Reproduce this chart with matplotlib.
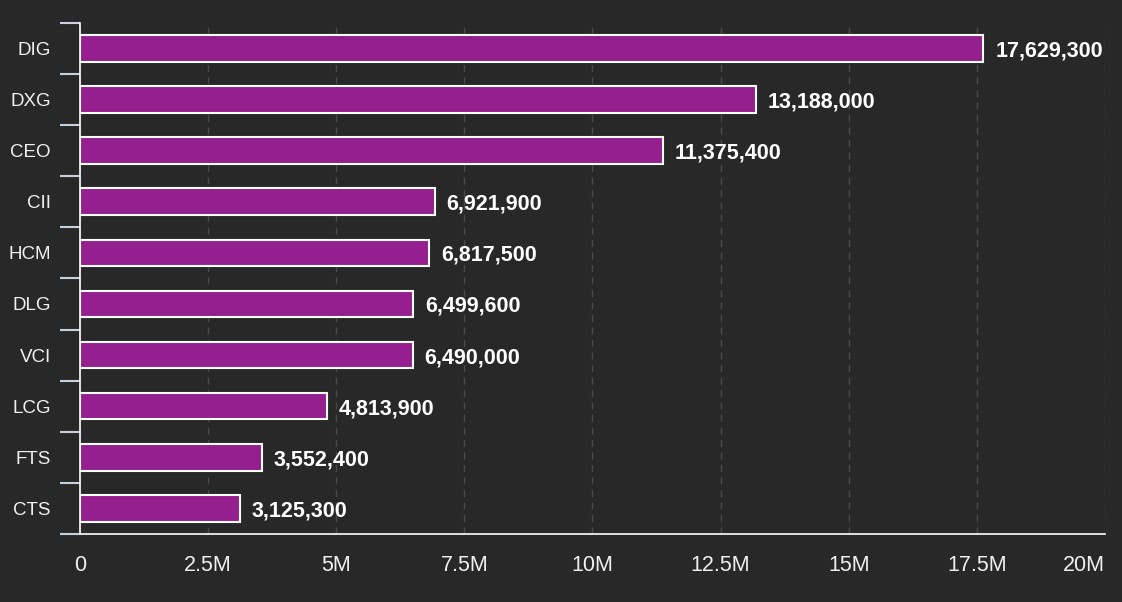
import matplotlib.pyplot as plt
from matplotlib.ticker import FixedLocator
import numpy as np

tickers = ["DIG", "DXG", "CEO", "CII", "HCM", "DLG", "VCI", "LCG", "FTS", "CTS"]
volumes = [17629300, 13188000, 11375400, 6921900, 6817500, 6499600, 6490000, 4813900, 3552400, 3125300]
x_ticks = [0, 2.5e6, 5e6, 7.5e6, 10e6, 12.5e6, 15e6, 17.5e6, 20e6]
x_labels = ["0", "2.5M", "5M", "7.5M", "10M", "12.5M", "15M", "17.5M", "20M"]

bg = "#282828"
plt.rcParams['font.family'] = ['Liberation Sans', 'DejaVu Sans']

fig = plt.figure(figsize=(11.22, 6.02), dpi=100, facecolor=bg)
ax = fig.add_axes([0.0713, 0.113, 0.9135, 0.849])
ax.set_facecolor(bg)

y = np.arange(len(tickers))
ax.barh(y, volumes, height=0.52, color="#951F8F", edgecolor="white", linewidth=1.5, zorder=3)

# value labels next to the bars
for yi, v in zip(y, volumes):
    ax.text(v + 2.3e5, yi, f"{v:,}", va="center_baseline", ha="left", color="white",
            fontsize=15.5, fontweight="bold", zorder=4)

ax.set_ylim(len(tickers) - 0.5, -0.5)
ax.set_xlim(0, 20e6)
ax.set_yticks(y)
ax.set_yticklabels(tickers)
ax.yaxis.set_minor_locator(FixedLocator(np.arange(-0.5, len(tickers), 1)))
ax.tick_params(axis="y", which="major", length=0, pad=21, labelsize=13.5, labelcolor="#f0f0f0")
ax.tick_params(axis="y", which="minor", length=14.4, width=1.5, color="#c8d0e0")

ax.set_xticks(x_ticks)
ax.set_xticklabels(x_labels)
ax.tick_params(axis="x", length=0, pad=15, labelsize=15.5, labelcolor="#f0f0f0")
ax.get_xticklabels()[-1].set_horizontalalignment("right")

ax.grid(axis="x", color="#4a4a4a", linestyle=(0, (5, 4)), linewidth=1, zorder=0)

for side in ["top", "right"]:
    ax.spines[side].set_visible(False)
ax.spines["left"].set_color("white")
ax.spines["bottom"].set_color("white")
ax.spines["left"].set_linewidth(1.2)
ax.spines["bottom"].set_linewidth(1.2)

fig.savefig("out.png", dpi=100, facecolor=bg)
